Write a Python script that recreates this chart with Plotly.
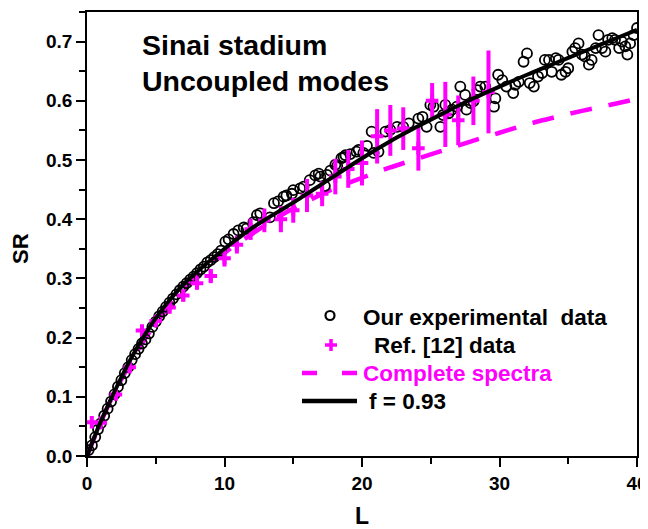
import plotly.graph_objects as go

# ---------------- data ----------------
exp_L = [0.12, 0.36, 0.6, 0.8, 1.0, 1.25, 1.5, 1.75, 2.0, 2.25, 2.5, 2.75, 3.0, 3.25, 3.5, 3.75,
         4.0, 4.25, 4.5, 4.75, 5.0, 5.25, 5.5, 5.75, 6.0, 6.25, 6.5, 6.75, 7.0, 7.25, 7.5, 7.75,
         8.0, 8.25, 8.5, 8.75, 9.0, 9.25, 9.5, 9.75, 10.06, 10.3, 10.66, 11.0, 11.4, 11.6, 12.1,
         12.36, 12.6, 13.3, 13.6, 13.9, 14.3, 14.5, 14.9, 15.0, 15.5, 15.75, 16.2, 16.6, 16.85,
         16.97, 17.3, 17.45, 17.7, 18.06, 18.2, 18.5, 18.66, 18.8, 19.15, 19.6, 19.75, 20.1, 20.36,
         20.7, 20.85, 21.2, 21.7, 22.06, 22.55, 23.0, 23.4, 24.1, 24.4, 24.7, 24.97, 25.2, 25.7,
         25.9, 26.06, 26.3, 26.55, 26.9, 27.15, 27.5, 27.6, 27.9, 28.1, 28.4, 28.6, 28.97, 29.6,
         29.7, 29.9, 30.2, 30.5, 31.0, 31.15, 31.4, 31.75, 32.0, 32.2, 32.5, 32.8, 33.1, 33.3,
         33.6, 33.8, 34.1, 34.3, 34.5, 34.8, 35.0, 35.3, 35.5, 35.75, 36.0, 36.2, 36.5, 36.7,
         37.0, 37.2, 37.45, 37.7, 37.9, 38.2, 38.4, 38.7, 38.9, 39.15, 39.3, 39.5, 39.75, 40.0]
exp_SR = [0.010, 0.018, 0.032, 0.045, 0.055, 0.068, 0.080, 0.092, 0.104, 0.117, 0.128, 0.140,
          0.150, 0.162, 0.172, 0.181, 0.190, 0.197, 0.207, 0.218, 0.227, 0.236, 0.244, 0.252,
          0.259, 0.266, 0.273, 0.280, 0.286, 0.292, 0.298, 0.303, 0.309, 0.315, 0.320, 0.327,
          0.331, 0.336, 0.341, 0.347, 0.362, 0.366, 0.375, 0.381, 0.386, 0.384, 0.395, 0.407,
          0.410, 0.403, 0.427, 0.430, 0.438, 0.440, 0.443, 0.449, 0.452, 0.455, 0.466, 0.474,
          0.477, 0.472, 0.456, 0.475, 0.482, 0.492, 0.490, 0.503, 0.505, 0.508, 0.510, 0.514,
          0.517, 0.512, 0.524, 0.548, 0.512, 0.514, 0.548, 0.551, 0.556, 0.556, 0.562, 0.570,
          0.573, 0.556, 0.593, 0.590, 0.556, 0.576, 0.593, 0.579, 0.585, 0.590, 0.624, 0.610,
          0.585, 0.596, 0.599, 0.618, 0.624, 0.624, 0.590, 0.604, 0.644, 0.635, 0.624, 0.613,
          0.627, 0.632, 0.666, 0.680, 0.630, 0.624, 0.641, 0.647, 0.669, 0.669, 0.649, 0.672,
          0.669, 0.644, 0.649, 0.655, 0.683, 0.689, 0.697, 0.678, 0.675, 0.661, 0.669, 0.689,
          0.711, 0.689, 0.683, 0.703, 0.706, 0.703, 0.689, 0.700, 0.692, 0.678, 0.697, 0.711, 0.723]

ref_L = [0.35, 1.0, 2.1, 3.1, 4.0, 5.0, 6.0, 7.0, 8.0, 9.0, 10.0, 10.9, 11.9, 12.9, 14.1, 15.0,
         16.0, 17.1, 18.06, 19.0, 20.0, 21.1, 22.06, 23.0, 24.1, 25.1, 26.06, 27.0, 28.1, 29.2]
ref_SR = [0.057, 0.056, 0.104, 0.150, 0.212, 0.228, 0.251, 0.271, 0.292, 0.304, 0.334, 0.357,
          0.383, 0.398, 0.400, 0.415, 0.440, 0.443, 0.472, 0.485, 0.495, 0.540, 0.550, 0.553,
          0.520, 0.600, 0.577, 0.567, 0.600, 0.615]
ref_err = [0.002, 0.006, 0.007, 0.008, 0.008, 0.009, 0.010, 0.010, 0.011, 0.012, 0.014, 0.015,
           0.018, 0.020, 0.022, 0.021, 0.028, 0.021, 0.030, 0.032, 0.038, 0.046, 0.043, 0.036,
           0.038, 0.030, 0.055, 0.042, 0.041, 0.070]

cs_L = [0, 1, 2, 3, 4, 5, 6, 8, 10, 12, 14, 16, 18, 20, 22, 24, 26, 28, 30, 32, 34, 36, 38, 40]
cs_SR = [0.0, 0.057, 0.107, 0.151, 0.190, 0.224, 0.254, 0.303, 0.343, 0.375, 0.405, 0.430,
         0.452, 0.470, 0.487, 0.502, 0.517, 0.532, 0.546, 0.560, 0.572, 0.583, 0.593, 0.603]

fit_L = [0, 0.5, 1, 1.5, 2, 2.5, 3, 3.5, 4, 5, 6, 7, 8, 9, 10, 11, 12, 13, 14, 15, 16, 17, 18,
         19, 20, 22, 24, 26, 28, 30, 32, 34, 36, 38, 40]
fit_SR = [0.0, 0.030, 0.058, 0.084, 0.109, 0.133, 0.156, 0.177, 0.197, 0.233, 0.263, 0.289,
          0.311, 0.331, 0.350, 0.368, 0.385, 0.400, 0.414, 0.428, 0.443, 0.458, 0.473, 0.488,
          0.503, 0.531, 0.556, 0.580, 0.603, 0.624, 0.644, 0.663, 0.682, 0.701, 0.720]

x_ticks = [0, 10, 20, 30, 40]
y_ticks = [0.0, 0.1, 0.2, 0.3, 0.4, 0.5, 0.6, 0.7]

title_lines = ["Sinai stadium", "Uncoupled modes"]
legend_names = ["Our experimental&nbsp;&nbsp;data", "Ref. [12] data", "Complete spectra", "f = 0.93"]

# ---------------- layout helpers ----------------
# the page body has an 8px margin, so the figure is drawn 8px in from the top-left
OFF = 8
W, H = 648 - OFF, 529 - OFF
ML, MR, MT, MB = 87 - OFF, 11, 12 - OFF, 73
PW, PH = W - ML - MR, H - MT - MB
MAG = "#FF00FF"
FONT = "Liberation Sans, Arial, sans-serif"


def fx(p):
    """window pixel x -> paper fraction"""
    return (p - OFF - ML) / PW


def fy(p):
    """window pixel y -> paper fraction"""
    return (H - MB - (p - OFF)) / PH


fig = go.Figure()
fig.add_trace(go.Scatter(x=cs_L, y=cs_SR, mode="lines",
                         line=dict(color=MAG, width=4.5, dash="22px,17px", shape="spline"),
                         showlegend=False, hoverinfo="skip"))
fig.add_trace(go.Scatter(x=exp_L, y=exp_SR, mode="markers",
                         marker=dict(symbol="circle-open", size=10, color="black",
                                     line=dict(width=1.8, color="black")),
                         showlegend=False))
fig.add_trace(go.Scatter(x=ref_L, y=ref_SR, mode="markers",
                         marker=dict(symbol="cross-thin-open", size=9, color=MAG,
                                     line=dict(width=4, color=MAG)),
                         error_y=dict(type="data", array=ref_err, color=MAG, thickness=4, width=0),
                         showlegend=False))
fig.add_trace(go.Scatter(x=fit_L, y=fit_SR, mode="lines",
                         line=dict(color="black", width=4, shape="spline"),
                         showlegend=False))

annotations = []
shapes = []
# title text
for i, t in enumerate(title_lines):
    annotations.append(dict(x=fx(140), y=fy(45 + 36 * i), xref="paper", yref="paper",
                            text=t, showarrow=False, xanchor="left", yanchor="middle",
                            font=dict(family=FONT, size=28.5, color="black", weight="bold")))
# axis titles
annotations.append(dict(x=fx(362), y=fy(516), xref="paper", yref="paper", text="L",
                        showarrow=False, xanchor="center", yanchor="middle",
                        font=dict(family=FONT, size=23, color="black", weight="bold")))
annotations.append(dict(x=fx(20), y=fy(249), xref="paper", yref="paper", text="SR",
                        showarrow=False, xanchor="center", yanchor="middle", textangle=-90,
                        font=dict(family=FONT, size=22, color="black", weight="bold")))

# manual legend
rows = [317, 345, 373, 401]
text_x = [361, 372, 361, 367]
text_col = ["black", "black", MAG, "black"]
for i, name in enumerate(legend_names):
    annotations.append(dict(x=fx(text_x[i]), y=fy(rows[i]), xref="paper", yref="paper",
                            text=name, showarrow=False, xanchor="left", yanchor="middle",
                            font=dict(family=FONT, size=22.5, color=text_col[i], weight="bold")))
# circle symbol
shapes.append(dict(type="circle", xref="paper", yref="paper",
                   x0=fx(325.5), x1=fx(334.5), y0=fy(320), y1=fy(311),
                   line=dict(color="black", width=2.2)))
# plus symbol
shapes.append(dict(type="line", xref="paper", yref="paper", x0=fx(325), x1=fx(337),
                   y0=fy(345), y1=fy(345), line=dict(color=MAG, width=3.5)))
shapes.append(dict(type="line", xref="paper", yref="paper", x0=fx(331), x1=fx(331),
                   y0=fy(339), y1=fy(351), line=dict(color=MAG, width=3.5)))
# dashed symbol
for a, b in [(302, 317), (342, 357)]:
    shapes.append(dict(type="line", xref="paper", yref="paper", x0=fx(a), x1=fx(b),
                       y0=fy(373), y1=fy(373), line=dict(color=MAG, width=4.5)))
# solid line symbol
shapes.append(dict(type="line", xref="paper", yref="paper", x0=fx(302), x1=fx(357),
                   y0=fy(401), y1=fy(401), line=dict(color="black", width=4.5)))

axis_common = dict(showgrid=False, zeroline=False, showline=True, linecolor="black",
                   linewidth=1.5, mirror=True, ticks="outside", ticklen=9, tickwidth=1.5,
                   tickcolor="black",
                   tickfont=dict(family=FONT, size=19, color="black", weight="bold"))

fig.update_layout(
    width=W, height=H,
    margin=dict(l=ML, r=MR, t=MT, b=MB, autoexpand=False),
    paper_bgcolor="white", plot_bgcolor="white",
    showlegend=False,
    xaxis=dict(range=[0, 40], tickvals=x_ticks, ticktext=[str(v) for v in x_ticks],
               minor=dict(dtick=5, tick0=0, ticks="outside", ticklen=6, tickwidth=1.5,
                          tickcolor="black"),
               **axis_common),
    yaxis=dict(range=[0, 0.75], tickvals=y_ticks, ticktext=["%.1f" % v for v in y_ticks],
               minor=dict(dtick=0.05, tick0=0, ticks="outside", ticklen=6, tickwidth=1.5,
                          tickcolor="black"),
               **axis_common),
    annotations=annotations,
    shapes=shapes,
)

fig.write_html("out.html")
